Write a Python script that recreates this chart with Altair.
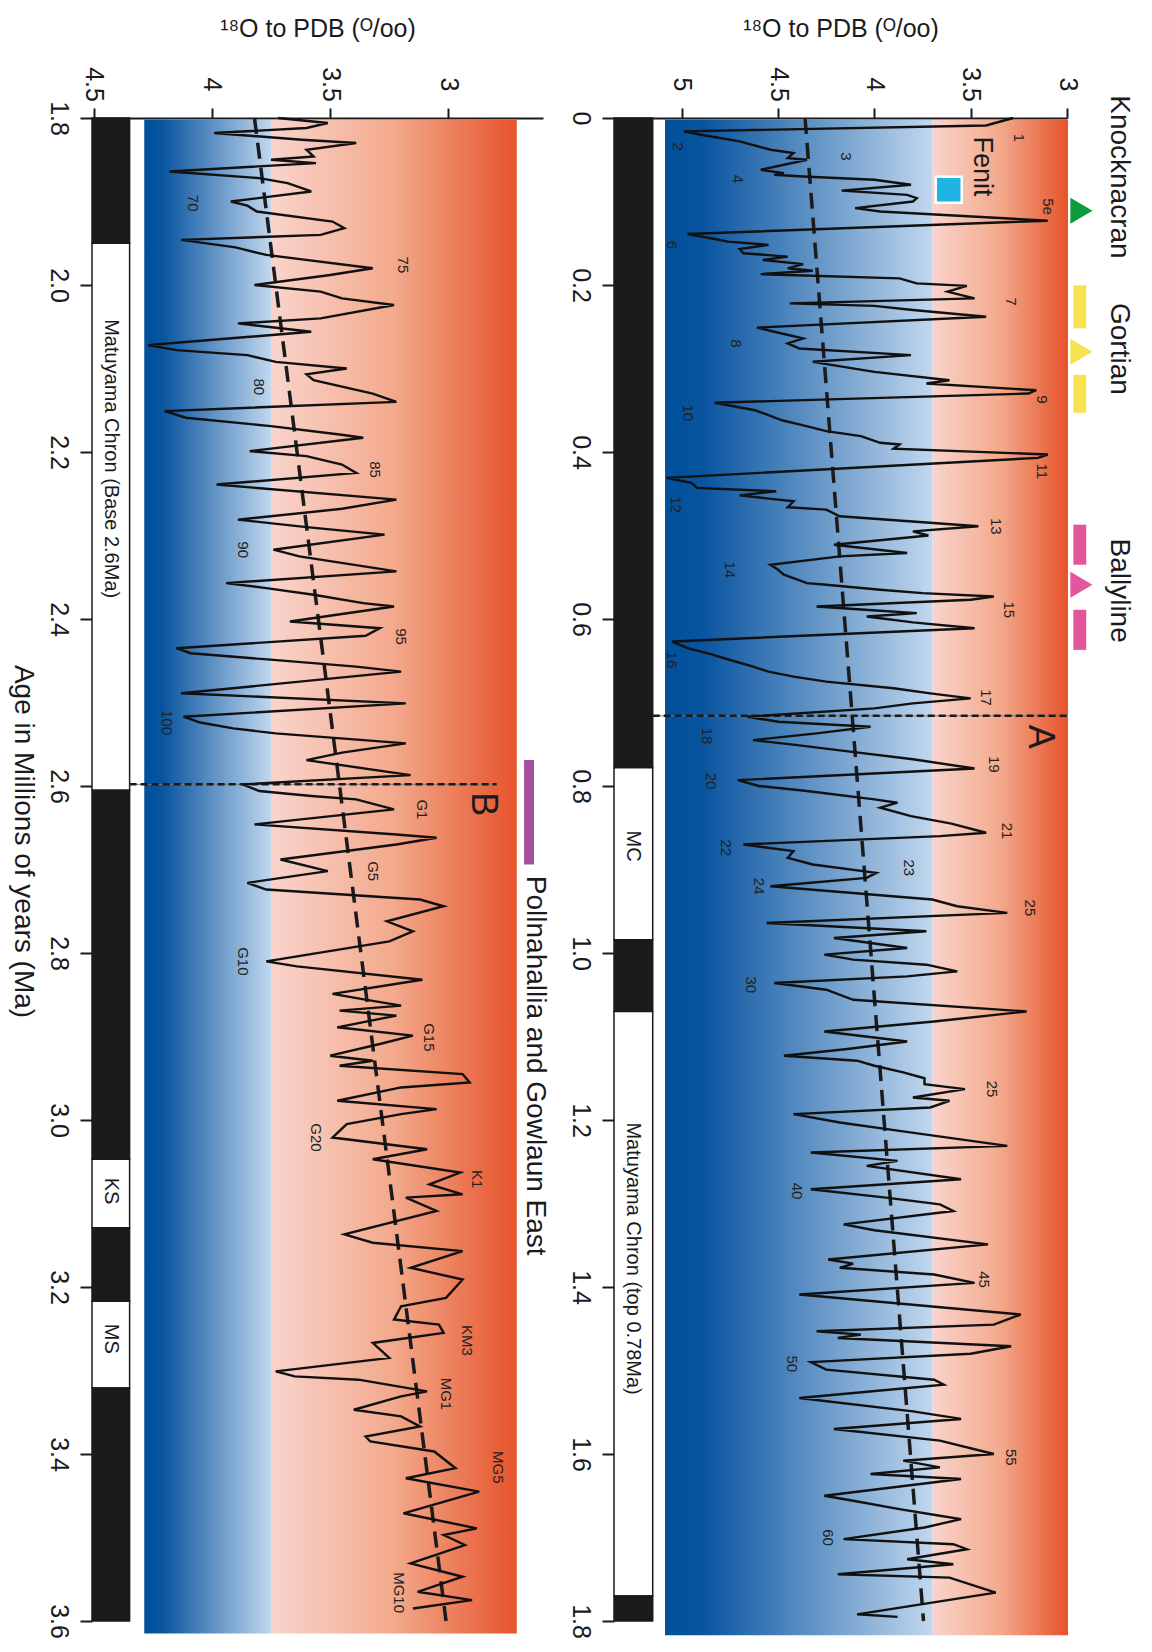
import altair as alt
import pandas as pd

FONT = "Liberation Sans"

# ---------------- right panel: 0 - 1.8 Ma ----------------
r_age = [0.000, 0.009, 0.016, 0.020, 0.028, 0.038, 0.042, 0.048, 0.050, 0.062, 0.066, 0.068, 0.070, 0.074,
         0.080, 0.087, 0.092, 0.096, 0.100, 0.108, 0.112, 0.123, 0.139, 0.144, 0.148, 0.152, 0.157, 0.162,
         0.166, 0.170, 0.175, 0.180, 0.183, 0.187, 0.192, 0.198, 0.201, 0.208, 0.216, 0.222, 0.225, 0.230,
         0.238, 0.251, 0.256, 0.264, 0.270, 0.276, 0.284, 0.292, 0.304, 0.314, 0.318, 0.326, 0.330, 0.341,
         0.350, 0.355, 0.362, 0.367, 0.375, 0.381, 0.389, 0.391, 0.396, 0.403, 0.407, 0.431, 0.437, 0.443,
         0.447, 0.452, 0.459, 0.466, 0.469, 0.477, 0.489, 0.495, 0.500, 0.511, 0.521, 0.525, 0.535, 0.541,
         0.547, 0.557, 0.559, 0.565, 0.569, 0.573, 0.577, 0.585, 0.589, 0.593, 0.597, 0.604, 0.611, 0.627,
         0.635, 0.642, 0.647, 0.657, 0.663, 0.669, 0.675, 0.683, 0.689, 0.695, 0.701, 0.707, 0.717, 0.723,
         0.729, 0.737, 0.745, 0.751, 0.757, 0.768, 0.779, 0.793, 0.800, 0.806, 0.816, 0.820, 0.826, 0.836,
         0.845, 0.856, 0.860, 0.870, 0.878, 0.886, 0.894, 0.904, 0.910, 0.920, 0.936, 0.944, 0.952, 0.964,
         0.974, 0.982, 0.994, 1.002, 1.008, 1.014, 1.022, 1.028, 1.036, 1.044, 1.056, 1.070, 1.082, 1.094,
         1.106, 1.115, 1.123, 1.129, 1.135, 1.143, 1.150, 1.157, 1.163, 1.173, 1.177, 1.185, 1.193, 1.203,
         1.213, 1.231, 1.239, 1.249, 1.255, 1.271, 1.283, 1.293, 1.301, 1.309, 1.325, 1.332, 1.349, 1.367,
         1.372, 1.377, 1.385, 1.395, 1.409, 1.433, 1.445, 1.453, 1.457, 1.461, 1.471, 1.480, 1.490, 1.499,
         1.511, 1.517, 1.533, 1.549, 1.558, 1.570, 1.584, 1.600, 1.608, 1.616, 1.624, 1.630, 1.650, 1.656,
         1.666, 1.674, 1.678, 1.688, 1.702, 1.708, 1.714, 1.726, 1.732, 1.744, 1.748, 1.766, 1.792, 1.795]
r_val = [3.28, 3.42, 4.99, 4.90, 4.70, 4.54, 4.42, 4.45, 4.35, 4.59, 4.47, 4.52, 4.37, 4.00,
         3.81, 4.17, 3.83, 3.78, 3.80, 4.10, 3.97, 3.10, 4.97, 4.85, 4.76, 4.55, 4.70, 4.68,
         4.45, 4.58, 4.37, 4.45, 4.32, 4.59, 3.87, 3.78, 3.52, 3.62, 3.48, 4.44, 4.00, 3.80,
         3.42, 4.61, 4.52, 4.37, 4.45, 4.39, 3.81, 4.32, 4.00, 3.61, 3.73, 3.16, 3.20, 4.83,
         4.62, 4.56, 4.48, 4.39, 4.25, 4.07, 3.97, 3.87, 3.90, 3.10, 3.15, 5.08, 4.95, 4.92,
         4.51, 4.70, 4.42, 4.45, 4.25, 4.18, 3.46, 3.80, 3.72, 4.21, 3.83, 4.18, 4.54, 4.50,
         4.47, 4.35, 4.25, 3.97, 3.75, 3.38, 3.50, 4.30, 4.05, 3.78, 4.04, 3.80, 3.48, 5.05,
         4.97, 4.85, 4.78, 4.63, 4.55, 4.42, 4.25, 3.90, 3.71, 3.50, 3.80, 4.00, 4.66, 4.50,
         4.02, 4.30, 4.63, 4.40, 4.19, 3.80, 3.48, 4.71, 4.60, 4.35, 4.00, 3.88, 3.97, 3.81,
         3.60, 3.42, 3.66, 4.68, 4.42, 4.45, 4.32, 3.99, 4.04, 4.54, 3.70, 3.57, 3.31, 4.56,
         3.73, 4.21, 3.83, 4.26, 4.11, 3.73, 3.57, 3.83, 4.52, 4.25, 4.11, 3.21, 3.69, 4.26,
         3.83, 4.14, 4.47, 4.09, 4.00, 3.85, 3.74, 3.74, 3.53, 3.80, 3.61, 3.71, 4.42, 4.18,
         3.87, 3.31, 4.33, 3.88, 4.04, 3.55, 4.33, 3.94, 3.66, 3.59, 4.16, 4.00, 3.41, 4.24,
         4.11, 4.18, 3.69, 3.48, 4.39, 3.24, 3.38, 4.30, 4.07, 4.19, 3.29, 3.50, 4.33, 4.25,
         3.69, 3.64, 4.39, 3.80, 3.55, 4.21, 3.66, 3.38, 3.85, 3.66, 4.02, 3.55, 4.26, 4.11,
         3.87, 3.66, 3.55, 3.74, 4.16, 3.59, 3.52, 3.83, 3.59, 4.19, 3.61, 3.37, 4.09, 3.88]

# ---------------- left panel: 1.8 - 3.6 Ma ----------------
l_age = [1.800, 1.806, 1.812, 1.818, 1.826, 1.830, 1.838, 1.846, 1.850, 1.854, 1.864, 1.872, 1.878, 1.888,
         1.900, 1.905, 1.912, 1.924, 1.932, 1.940, 1.946, 1.955, 1.964, 1.980, 1.988, 2.000, 2.008, 2.016,
         2.024, 2.040, 2.046, 2.056, 2.068, 2.072, 2.078, 2.084, 2.092, 2.100, 2.107, 2.114, 2.130, 2.140,
         2.151, 2.159, 2.169, 2.179, 2.183, 2.199, 2.205, 2.215, 2.225, 2.239, 2.257, 2.268, 2.281, 2.290,
         2.299, 2.317, 2.325, 2.343, 2.357, 2.363, 2.371, 2.381, 2.385, 2.403, 2.411, 2.420, 2.435, 2.441,
         2.449, 2.457, 2.463, 2.489, 2.501, 2.517, 2.524, 2.531, 2.537, 2.549, 2.560, 2.569, 2.587, 2.598,
         2.606, 2.612, 2.616, 2.628, 2.646, 2.658, 2.662, 2.670, 2.688, 2.702, 2.716, 2.724, 2.736, 2.744,
         2.762, 2.774, 2.786, 2.810, 2.816, 2.832, 2.849, 2.855, 2.863, 2.869, 2.875, 2.889, 2.899, 2.909,
         2.923, 2.929, 2.935, 2.945, 2.955, 2.961, 2.977, 2.987, 2.993, 3.005, 3.021, 3.035, 3.047, 3.063,
         3.077, 3.089, 3.093, 3.109, 3.137, 3.147, 3.157, 3.177, 3.191, 3.213, 3.223, 3.239, 3.245, 3.255,
         3.267, 3.285, 3.301, 3.307, 3.311, 3.325, 3.331, 3.347, 3.355, 3.367, 3.379, 3.385, 3.397, 3.417,
         3.429, 3.445, 3.471, 3.489, 3.497, 3.509, 3.531, 3.547, 3.565, 3.575, 3.585]
l_val = [3.72, 3.51, 3.60, 3.99, 3.62, 3.39, 3.60, 3.57, 3.75, 3.56, 4.18, 3.80, 3.68, 3.58,
         3.92, 3.85, 3.81, 3.49, 3.44, 3.54, 4.13, 3.90, 3.77, 3.32, 3.50, 3.82, 3.54, 3.45,
         3.23, 3.54, 3.89, 3.58, 4.10, 4.27, 4.15, 3.85, 3.73, 3.43, 3.60, 3.57, 3.32, 3.22,
         4.20, 4.11, 3.75, 3.46, 3.36, 3.84, 3.60, 3.45, 3.39, 3.98, 3.22, 3.45, 3.89, 3.60,
         3.27, 3.74, 3.63, 3.22, 3.94, 3.77, 3.57, 3.36, 3.23, 3.67, 3.29, 3.35, 4.15, 4.09,
         3.74, 3.39, 3.20, 4.13, 3.18, 4.12, 4.05, 3.91, 3.73, 3.18, 3.45, 3.60, 3.16, 3.87,
         3.80, 3.58, 3.39, 3.23, 3.82, 3.22, 3.05, 3.22, 3.71, 3.51, 3.85, 3.77, 3.12, 3.02,
         3.26, 3.15, 3.25, 3.77, 3.64, 3.11, 3.49, 3.37, 3.20, 3.46, 3.22, 3.47, 3.15, 3.29,
         3.50, 3.32, 3.46, 2.94, 2.91, 3.20, 3.47, 3.05, 3.20, 3.43, 3.49, 3.09, 3.32, 2.95,
         3.08, 2.94, 3.18, 3.05, 3.44, 3.32, 2.94, 3.16, 2.94, 3.01, 3.20, 3.23, 3.04, 3.02,
         3.32, 3.25, 3.73, 3.65, 3.38, 3.09, 3.20, 3.40, 3.20, 3.12, 3.35, 3.33, 3.06, 2.97,
         3.18, 2.87, 3.19, 2.88, 3.02, 2.93, 3.16, 2.94, 3.13, 2.90, 3.15]

# dashed long-term trend lines (end points)
r_trend_age = [0.0, 1.8]
r_trend_val = [4.36, 3.745]
l_trend_age = [1.8, 3.6]
l_trend_val = [3.82, 3.01]

# marine isotope stage labels
r_stage_txt = ["1", "2", "3", "4", "5e", "6", "7", "8", "9", "10", "11", "12", "13", "14", "15", "16",
               "17", "18", "19", "20", "21", "22", "23", "24", "25", "30", "25", "40", "45", "50", "55", "60"]
r_stage_val = [3.25, 5.02, 4.15, 4.71, 3.10, 5.05, 3.29, 4.72, 3.13, 4.97, 3.13, 5.03, 3.37, 4.75, 3.30, 5.05,
               3.42, 4.87, 3.38, 4.85, 3.31, 4.77, 3.82, 4.60, 3.19, 4.64, 3.39, 4.40, 3.43, 4.43, 3.29, 4.24]
r_stage_age = [0.024, 0.034, 0.046, 0.073, 0.106, 0.152, 0.220, 0.270, 0.337, 0.353, 0.423, 0.463, 0.489,
               0.541, 0.589, 0.649, 0.694, 0.740, 0.774, 0.794, 0.854, 0.874, 0.898, 0.920, 0.946, 1.038,
               1.163, 1.285, 1.391, 1.492, 1.604, 1.700]
l_stage_txt = ["70", "75", "80", "85", "90", "95", "100", "G1", "G5", "G10", "G15", "G20", "K1", "KM3",
               "MG1", "MG5", "MG10"]
l_stage_val = [4.08, 3.19, 3.80, 3.31, 3.87, 3.20, 4.19, 3.11, 3.32, 3.87, 3.08, 3.56, 2.88, 2.92, 3.01,
               2.79, 3.21]
l_stage_age = [1.902, 1.976, 2.122, 2.221, 2.317, 2.421, 2.524, 2.628, 2.702, 2.810, 2.901, 3.021, 3.071,
               3.264, 3.328, 3.416, 3.566]

# polarity chron strips (start, end, fill)
r_chron_start = [0.0, 0.778, 0.984, 1.070, 1.770]
r_chron_end = [0.778, 0.984, 1.070, 1.770, 1.8]
r_chron_fill = ["#1b1a1c", "white", "#1b1a1c", "white", "#1b1a1c"]
r_chron_txt = ["MC", "Matuyama Chron (top 0.78Ma)"]
r_chron_txt_age = [0.872, 1.366]
l_chron_start = [1.8, 1.950, 2.605, 3.047, 3.129, 3.217, 3.321]
l_chron_end = [1.950, 2.605, 3.047, 3.129, 3.217, 3.321, 3.6]
l_chron_fill = ["#1b1a1c", "white", "#1b1a1c", "white", "#1b1a1c", "white", "#1b1a1c"]
l_chron_txt = ["Matuyama Chron (Base 2.6Ma)", "KS", "MS"]
l_chron_txt_age = [2.208, 3.085, 3.262]

# site markers (right panel)
site_names = ["Knocknacran", "Gortian", "Ballyline"]
site_name_age = [0.0706, 0.2765, 0.566]
tri_age = [0.111, 0.280, 0.559]
tri_color = ["#0b9a3c", "#f8e24f", "#e4569b"]
bar_start = [0.2005, 0.3076, 0.487, 0.589]
bar_end = [0.252, 0.353, 0.535, 0.637]
bar_color = ["#f8e24f", "#f8e24f", "#e4569b", "#e4569b"]

XTITLE = "\u00b9\u2078O to PDB (\u1d3c/oo)"
BLUE = [("#00509b", 0.0), ("#08549f", 0.14), ("#c1d7ee", 1.0)]
PINK = [("#f9d4cc", 0.0), ("#f3a98c", 0.5), ("#e6532a", 1.0)]
INK = "#1b1a1c"


def grad(stops):
    return alt.LinearGradient(gradient="linear", x1=0, x2=1, y1=0, y2=0,
                              stops=[alt.GradientStop(color=c, offset=o) for c, o in stops])


def panel(xdom, ydom, ages, vals, tr_age, tr_val, bg, strip_x, c_start, c_end, c_fill,
          c_txt, c_txt_age, st_txt, st_val, st_age, xvals, yvals, yexpr, ytitle, mark_line_def):
    XS = alt.Scale(domain=xdom, reverse=True, nice=False, zero=False)
    YS = alt.Scale(domain=ydom, reverse=True, nice=False, zero=False)
    xaxis = alt.Axis(orient="top", values=xvals, format="~g", title=XTITLE, labelAngle=90,
                     labelAlign="center", labelBaseline="middle", labelFontSize=25, labelPadding=24,
                     tickSize=10, tickWidth=2, domainWidth=2, domainColor=INK, tickColor=INK,
                     labelColor=INK, titleColor=INK, titleFontSize=25,
                     titleFontWeight="normal", titlePadding=25, grid=False, labelFlush=False,
                     labelOverlap=False)
    yaxis = alt.Axis(orient="left", values=yvals, labelExpr=yexpr, title=ytitle, labelAngle=90,
                     labelAlign="center", labelBaseline="middle", labelFontSize=25, labelPadding=22,
                     tickSize=12, tickWidth=2, tickColor=INK, labelColor=INK, domain=False,
                     titleAngle=90, titleBaseline="top", titleFontSize=28, titleFontWeight="normal",
                     titleColor=INK, titlePadding=9, titleY=723, grid=False, labelFlush=False,
                     labelOverlap=False)

    def X(f):
        return alt.X(f, scale=XS, axis=xaxis)

    def Y(f):
        return alt.Y(f, scale=YS, axis=yaxis)

    layers = []
    # background gradients
    bdf1 = pd.DataFrame({"x1": [bg[0]], "x2": [bg[1]], "y1": [bg[3]], "y2": [bg[4]]})
    bdf2 = pd.DataFrame({"x1": [bg[1]], "x2": [bg[2]], "y1": [bg[3]], "y2": [bg[4]]})
    layers.append(alt.Chart(bdf1).mark_rect(fill=grad(BLUE), strokeWidth=0).encode(
        x=X("x1:Q"), x2="x2:Q", y=Y("y1:Q"), y2="y2:Q"))
    layers.append(alt.Chart(bdf2).mark_rect(fill=grad(PINK), strokeWidth=0).encode(
        x=X("x1:Q"), x2="x2:Q", y=Y("y1:Q"), y2="y2:Q"))
    # chron strip
    sdf = pd.DataFrame({"x1": [strip_x[0]] * len(c_start), "x2": [strip_x[1]] * len(c_start),
                        "y1": c_start, "y2": c_end, "c": c_fill})
    layers.append(alt.Chart(sdf).mark_rect(stroke=INK, strokeWidth=1.5).encode(
        x=X("x1:Q"), x2="x2:Q", y=Y("y1:Q"), y2="y2:Q", fill=alt.Fill("c:N", scale=None)))
    cx = (strip_x[0] + strip_x[1]) / 2
    ctdf = pd.DataFrame({"v": [cx] * len(c_txt), "age": c_txt_age, "t": c_txt})
    layers.append(alt.Chart(ctdf).mark_text(angle=90, align="center", baseline="middle", fontSize=20,
                                             color=INK).encode(x=X("v:Q"), y=Y("age:Q"), text="t:N"))
    # trend line
    tdf = pd.DataFrame({"age": tr_age, "v": tr_val})
    layers.append(alt.Chart(tdf).mark_line(color=INK, strokeWidth=3.5, strokeDash=[16, 9]).encode(
        x=X("v:Q"), y=Y("age:Q"), order="age:Q"))
    # boundary line A / B
    ldf = pd.DataFrame({"x1": [mark_line_def[0]], "x2": [mark_line_def[1]], "age": [mark_line_def[2]]})
    layers.append(alt.Chart(ldf).mark_rule(color="#777777", strokeWidth=1).encode(
        x=X("x1:Q"), x2="x2:Q", y=Y("age:Q")))
    layers.append(alt.Chart(ldf).mark_rule(color=INK, strokeWidth=2.5, strokeDash=[7, 4]).encode(
        x=X("x1:Q"), x2="x2:Q", y=Y("age:Q")))
    lldf = pd.DataFrame({"v": [mark_line_def[4]], "age": [mark_line_def[5]], "t": [mark_line_def[3]]})
    layers.append(alt.Chart(lldf).mark_text(angle=90, align="center", baseline="middle", fontSize=36,
                                             color=INK).encode(x=X("v:Q"), y=Y("age:Q"), text="t:N"))
    # isotope curve
    df = pd.DataFrame({"age": ages, "v": vals, "i": list(range(len(ages)))})
    layers.append(alt.Chart(df).mark_line(color="#111111", strokeWidth=2.4, strokeJoin="miter").encode(
        x=X("v:Q"), y=Y("age:Q"), order="i:Q"))
    # stage labels
    stdf = pd.DataFrame({"v": st_val, "age": st_age, "t": st_txt})
    layers.append(alt.Chart(stdf).mark_text(angle=90, align="center", baseline="middle", fontSize=15,
                                             color="#222222").encode(x=X("v:Q"), y=Y("age:Q"), text="t:N"))
    return layers, X, Y


r_layers, RX, RY = panel(
    [3.0, 5.352], [0.0, 1.8], r_age, r_val, r_trend_age, r_trend_val,
    (5.087, 3.698, 2.995, 0.002, 1.817), (5.352, 5.151), r_chron_start, r_chron_end, r_chron_fill,
    r_chron_txt, r_chron_txt_age, r_stage_txt, r_stage_val, r_stage_age,
    [3, 3.5, 4, 4.5, 5], [0, 0.2, 0.4, 0.6, 0.8, 1.0, 1.2, 1.4, 1.6, 1.8],
    "datum.value == 0 ? '0' : format(datum.value, '.1f')", "",
    (5.151, 3.0, 0.716, "A", 3.139, 0.741))

# site annotations on the right panel
fdf = pd.DataFrame({"v": [3.614], "age": [0.086]})
r_layers.append(alt.Chart(fdf).mark_square(size=676, fill="#1fb4e4", stroke="white", strokeWidth=2.5,
                                           opacity=1).encode(x=RX("v:Q"), y=RY("age:Q")))
ftdf = pd.DataFrame({"v": [3.44], "age": [0.058], "t": ["Fenit"]})
r_layers.append(alt.Chart(ftdf).mark_text(angle=90, align="center", baseline="middle", fontSize=27,
                                          color=INK).encode(x=RX("v:Q"), y=RY("age:Q"), text="t:N"))
sndf = pd.DataFrame({"v": [2.73] * 3, "age": site_name_age, "t": site_names})
r_layers.append(alt.Chart(sndf).mark_text(angle=90, align="center", baseline="middle", fontSize=28,
                                          color=INK).encode(x=RX("v:Q"), y=RY("age:Q"), text="t:N"))
bdf = pd.DataFrame({"x1": [2.967] * 4, "x2": [2.900] * 4, "y1": bar_start, "y2": bar_end, "c": bar_color})
r_layers.append(alt.Chart(bdf).mark_rect(strokeWidth=0).encode(
    x=RX("x1:Q"), x2="x2:Q", y=RY("y1:Q"), y2="y2:Q", fill=alt.Fill("c:N", scale=None)))
trdf = pd.DataFrame({"v": [2.925] * 3, "age": tri_age, "c": tri_color})
r_layers.append(alt.Chart(trdf).mark_point(shape="M -0.85 -1 L 0.85 0 L -0.85 1 Z", size=676, filled=True,
                                           opacity=1, strokeWidth=0).encode(
    x=RX("v:Q"), y=RY("age:Q"), fill=alt.Fill("c:N", scale=None)))

l_layers, LX, LY = panel(
    [2.60, 4.507], [1.8, 3.6], l_age, l_val, l_trend_age, l_trend_val,
    (4.286, 3.75, 2.711, 1.802, 3.615), (4.507, 4.348), l_chron_start, l_chron_end, l_chron_fill,
    l_chron_txt, l_chron_txt_age, l_stage_txt, l_stage_val, l_stage_age,
    [3, 3.5, 4, 4.5], [1.8, 2.0, 2.2, 2.4, 2.6, 2.8, 3.0, 3.2, 3.4, 3.6],
    "format(datum.value, '.1f')", "Age in Millions of years (Ma)",
    (4.348, 2.796, 2.598, "B", 2.852, 2.622))

pdf = pd.DataFrame({"x1": [2.680], "x2": [2.638], "y1": [2.569], "y2": [2.694]})
l_layers.append(alt.Chart(pdf).mark_rect(fill="#a3509f", strokeWidth=0).encode(
    x=LX("x1:Q"), x2="x2:Q", y=LY("y1:Q"), y2="y2:Q"))
ptdf = pd.DataFrame({"v": [2.634], "age": [2.935], "t": ["Pollnahallia and Gowlaun East"]})
l_layers.append(alt.Chart(ptdf).mark_text(angle=90, align="center", baseline="middle", fontSize=28,
                                          color=INK).encode(x=LX("v:Q"), y=LY("age:Q"), text="t:N"))

left = alt.layer(*l_layers).properties(width=451, height=1503)
right = alt.layer(*r_layers).properties(width=453, height=1503)

chart = alt.HConcatChart(hconcat=[left, right], spacing=71, bounds="flush").properties(
    padding={"left": 0, "top": 8, "right": 2, "bottom": 0}
).configure(font=FONT).configure_view(strokeWidth=0)

chart.save("out.html", embed_options={"renderer": "svg", "actions": False})
